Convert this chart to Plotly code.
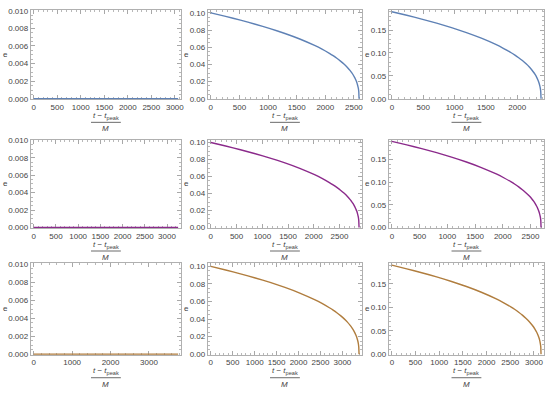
import plotly.graph_objects as go

# ---------------- data ----------------
# column 1: e0 = 0 (flat at zero)
t_r1c1 = [0, 3070]
e_r1c1 = [0, 0]
t_r2c1 = [0, 3250]
e_r2c1 = [0, 0]
t_r3c1 = [0, 3760]
e_r3c1 = [0, 0]

# column 2: e0 = 0.10
e_c2 = [0.1000, 0.0959, 0.0915, 0.0868, 0.0817, 0.0760, 0.0696, 0.0621, 0.0578,
        0.0529, 0.0502, 0.0472, 0.0439, 0.0402, 0.0368, 0.0328, 0.0305, 0.0280,
        0.0249, 0.0212, 0.0190, 0.0161, 0.0123, 0.0085, 0.0]
t_r1c2 = [0, 259, 518, 777, 1036, 1295, 1554, 1813, 1943, 2072, 2137, 2202, 2266,
          2331, 2383, 2435, 2461, 2486, 2512, 2538, 2551, 2564, 2577, 2585, 2590]
t_r2c2 = [0, 288, 576, 864, 1152, 1440, 1728, 2016, 2160, 2304, 2376, 2448, 2520,
          2592, 2650, 2707, 2736, 2765, 2794, 2822, 2837, 2851, 2866, 2874, 2880]
t_r3c2 = [0, 338, 676, 1014, 1352, 1690, 2028, 2366, 2535, 2704, 2789, 2873, 2958,
          3042, 3110, 3177, 3211, 3245, 3279, 3312, 3329, 3346, 3363, 3373, 3380]

# column 3: e0 = 0.19
e_c3 = [0.1900, 0.1822, 0.1739, 0.1650, 0.1552, 0.1444, 0.1322, 0.1180, 0.1097,
        0.1005, 0.0953, 0.0896, 0.0834, 0.0763, 0.0699, 0.0624, 0.0580, 0.0531,
        0.0474, 0.0404, 0.0360, 0.0307, 0.0233, 0.0162, 0.0]
t_r1c3 = [0, 238, 476, 714, 952, 1190, 1428, 1666, 1785, 1904, 1964, 2023, 2083,
          2142, 2190, 2237, 2261, 2285, 2309, 2332, 2344, 2356, 2368, 2375, 2380]
t_r2c3 = [0, 269, 538, 807, 1076, 1345, 1614, 1883, 2018, 2152, 2219, 2287, 2354,
          2421, 2475, 2529, 2556, 2582, 2609, 2636, 2650, 2663, 2677, 2685, 2690]
t_r3c3 = [0, 315, 630, 945, 1260, 1575, 1890, 2205, 2363, 2520, 2599, 2678, 2756,
          2835, 2898, 2961, 2993, 3024, 3056, 3087, 3103, 3119, 3134, 3144, 3150]

x_dticks = [500, 500, 500, 500, 500, 500, 1000, 500, 500]
y_dticks = [0.002, 0.02, 0.05]
y_minor = [0.0005, 0.005, 0.01]
y_formats = [".3f", ".2f", ".2f"]
y_tops = [0.0101, 0.1035, 0.194]
row_colors = ["#5E81B5", "#8B2A8B", "#B07D3E"]

series = [
    (t_r1c1, e_r1c1), (t_r1c2, e_c2), (t_r1c3, e_c3),
    (t_r2c1, e_r2c1), (t_r2c2, e_c2), (t_r2c3, e_c3),
    (t_r3c1, e_r3c1), (t_r3c2, e_c2), (t_r3c3, e_c3),
]

# ---------------- layout geometry (pixels) ----------------
W, H = 550, 394
col_px = [(31, 182), (209, 364), (391, 547)]
row_px = [(7, 98), (139, 229), (265, 358)]
elabel_x = [6, 188, 370]

fig = go.Figure()
layout = dict(
    width=W, height=H, margin=dict(l=0, r=0, t=0, b=0),
    paper_bgcolor="white", plot_bgcolor="white", showlegend=False,
    font=dict(family="Liberation Sans, Arial, sans-serif", size=8, color="#444"),
)
annotations = []
shapes = []

for k, (ts, es) in enumerate(series):
    r, c = divmod(k, 3)
    n = k + 1
    xa = "x" if n == 1 else f"x{n}"
    ya = "y" if n == 1 else f"y{n}"
    fig.add_trace(go.Scatter(x=ts, y=es, mode="lines", xaxis=xa, yaxis=ya,
                             line=dict(color=row_colors[r], width=1.4,
                                       shape="spline", smoothing=0.5),
                             hoverinfo="skip"))
    x0p, x1p = col_px[c]
    y0p, y1p = row_px[r]
    tmax = ts[-1]
    pad = 0.02 * tmax
    ytop = y_tops[c]
    ybot = -0.005 * ytop
    common = dict(showgrid=False, zeroline=False, showline=True, linecolor="#b0b0b0",
                  linewidth=1, mirror="ticks", ticks="inside", ticklen=4,
                  tickcolor="#a8a8a8", tickwidth=1, layer="below traces",
                  tickfont=dict(size=8, color="#444"))
    layout["xaxis" if n == 1 else f"xaxis{n}"] = dict(
        domain=[x0p / W, x1p / W], anchor=ya, range=[-pad, tmax + pad],
        dtick=x_dticks[k], tick0=0,
        minor=dict(dtick=x_dticks[k] / 5, ticks="inside", ticklen=2, tickcolor="#b8b8b8"),
        **common)
    layout["yaxis" if n == 1 else f"yaxis{n}"] = dict(
        domain=[1 - y1p / H, 1 - y0p / H], anchor=xa, range=[ybot, ytop],
        dtick=y_dticks[c], tick0=0, tickformat=y_formats[c],
        minor=dict(dtick=y_minor[c], ticks="inside", ticklen=2, tickcolor="#b8b8b8"),
        **common)

    # y label "e"
    annotations.append(dict(x=elabel_x[c] / W, y=1 - (y0p + y1p) / 2 / H,
                            xref="paper", yref="paper", text="e", showarrow=False,
                            font=dict(size=8, color="#444"), xanchor="center", yanchor="middle"))
    # x label as a fraction (t - t_peak) / M
    xc = (x0p + x1p) / 2
    annotations.append(dict(x=xc / W, y=1 - (y1p + 17) / H, xref="paper", yref="paper",
                            text="<i>t</i> − <i>t</i><sub>peak</sub>", showarrow=False,
                            font=dict(size=8, color="#444"), xanchor="center", yanchor="middle"))
    annotations.append(dict(x=xc / W, y=1 - (y1p + 30) / H, xref="paper", yref="paper",
                            text="<i>M</i>", showarrow=False,
                            font=dict(size=8, color="#444"), xanchor="center", yanchor="middle"))
    shapes.append(dict(type="line", xref="paper", yref="paper",
                       x0=(xc - 15) / W, x1=(xc + 15) / W,
                       y0=1 - (y1p + 23.5) / H, y1=1 - (y1p + 23.5) / H,
                       line=dict(color="#444", width=0.8)))

layout["annotations"] = annotations
layout["shapes"] = shapes
fig.update_layout(**layout)
fig.write_html("out.html", config={"displayModeBar": False},
               post_script="document.body.style.margin='0px';document.body.style.overflow='hidden';")
